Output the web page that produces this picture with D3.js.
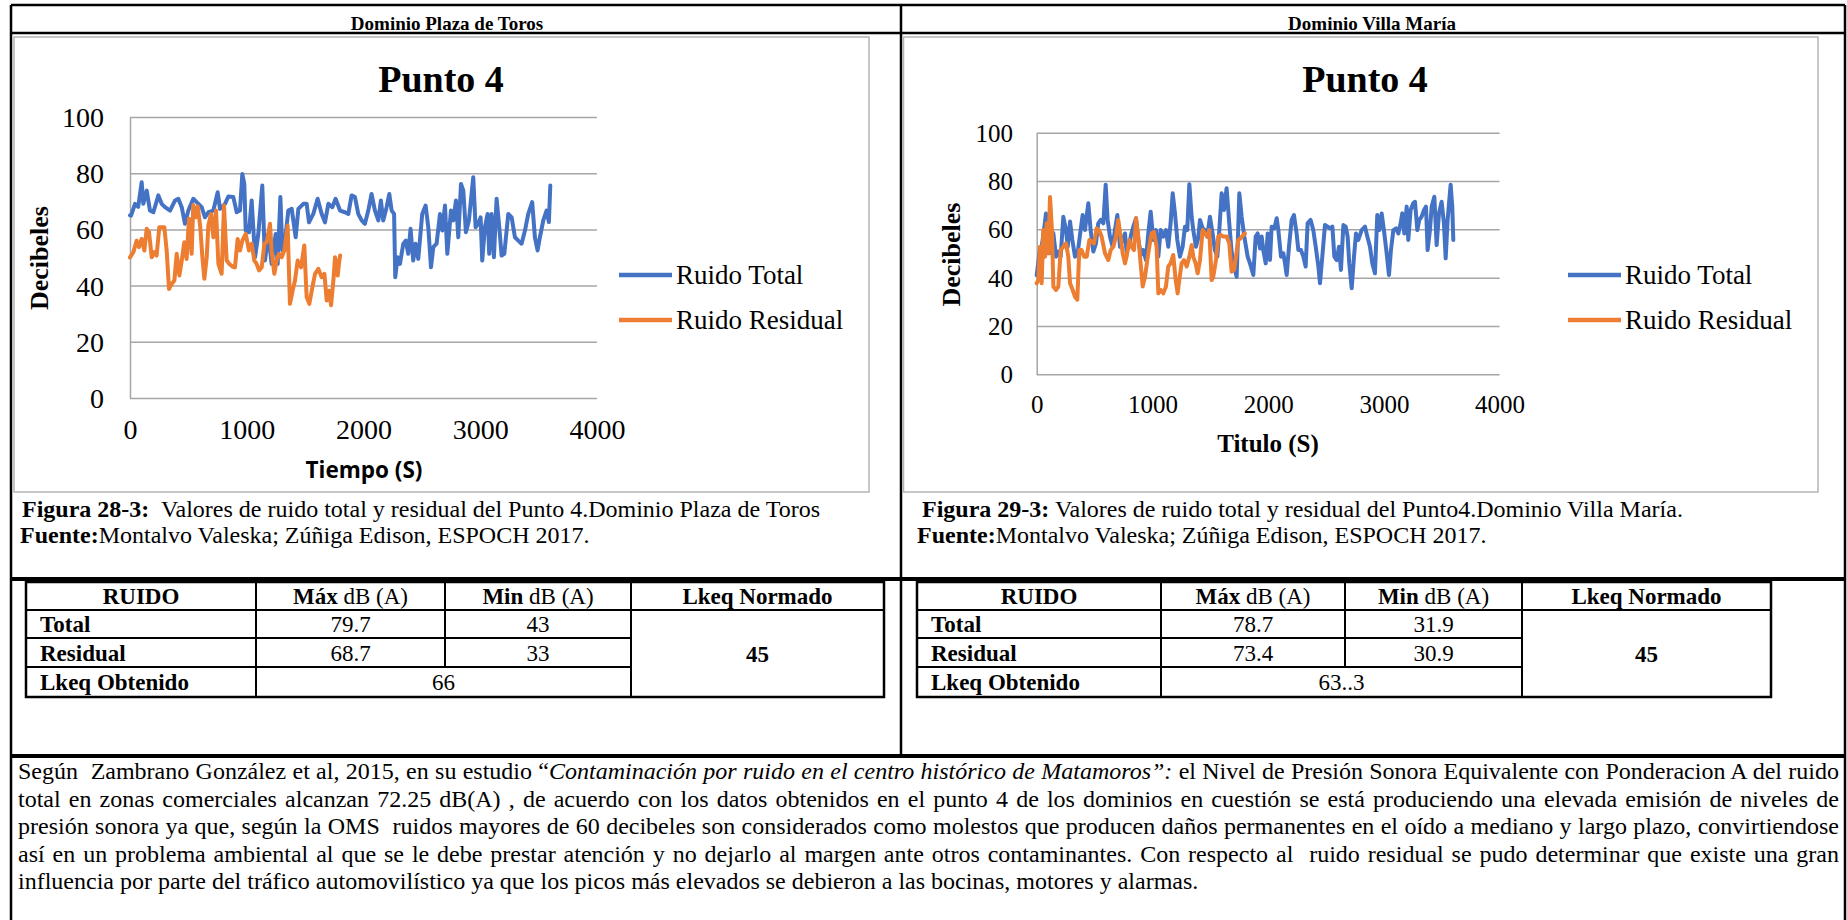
<!DOCTYPE html>
<html>
<head>
<meta charset="utf-8">
<script src="https://cdn.jsdelivr.net/npm/d3@7"></script>
<style>
  html, body { margin: 0; padding: 0; background: #fff; }
  svg { display: block; }
  text { font-family: "Liberation Serif", "Times New Roman", serif; fill: #000; }
</style>
</head>
<body>
<svg id="page" width="1847" height="920"></svg>
<script>
// ---- axis ticks and legend names ----
const xTicks = [0, 1000, 2000, 3000, 4000];
const yTicks = [0, 20, 40, 60, 80, 100];
const seriesNames = ["Ruido Total", "Ruido Residual"];
const seriesColors = ["#4472C4", "#ED7D31"];

// ---- Punto 4, Dominio Plaza de Toros: [tiempo (s), dB] ----
const torosTotal = [
  [0,65],[9,64.9],[43,69.1],[70,68],[100,76.8],[114,69.1],[143,73.8],[171,66.7],[200,66.1],
  [243,72.1],[271,69.1],[300,67.9],[343,66.7],[386,70.3],[414,70.9],[443,67.9],[471,62],
  [500,66.7],[542,70.9],[571,69.7],[614,67.9],[642,64.3],[671,66.1],[714,66.7],[751,73.2],
  [771,67.3],[814,69.1],[842,71.7],[885,71.5],[914,66.1],[942,66.7],[962,79.7],[979,76.2],
  [991,59.6],[1019,59],[1042,70.3],[1071,50.1],[1099,58.4],[1133,75.6],[1156,48.9],[1185,58.4],
  [1213,47.7],[1248,58.4],[1265,47.7],[1288,71.5],[1305,52.5],[1328,56],[1356,66.7],[1385,67.3],
  [1419,57.2],[1442,67.3],[1485,69.1],[1513,69.1],[1533,62.5],[1570,65.5],[1607,70.9],[1642,65.5],
  [1670,62.5],[1699,69.1],[1733,67.9],[1761,70.9],[1799,66.7],[1841,66.1],[1870,65.5],[1898,72.1],
  [1927,71.5],[1955,65.5],[1984,63.2],[2012,62],[2041,66.7],[2069,72.6],[2098,66.7],[2127,63.2],
  [2149,70.3],[2169,63.2],[2198,67.9],[2221,72.6],[2241,66.7],[2262,65.5],[2272,43],[2292,50.1],
  [2312,47.7],[2341,54.9],[2363,56],[2383,51.3],[2403,60.2],[2426,48.9],[2446,54.9],[2469,49.5],
  [2503,65.5],[2532,68.5],[2555,60.8],[2578,46.5],[2598,53.7],[2626,54.9],[2655,65.5],[2675,59.6],
  [2698,68.5],[2718,51.3],[2749,66.7],[2769,63.2],[2792,70.3],[2812,57.2],[2835,76.2],[2855,73.8],
  [2877,59],[2903,63.2],[2940,78.6],[2960,60.8],[2983,62],[3003,64.3],[3017,48.9],[3040,60.8],
  [3063,65.5],[3077,51.3],[3097,65.5],[3117,50.1],[3140,70.9],[3163,60.8],[3183,50.7],[3206,51.3],
  [3240,65.5],[3269,64.3],[3297,57.2],[3326,56],[3354,54.9],[3383,59.6],[3411,65.5],[3445,69.7],
  [3468,57.2],[3491,52.5],[3511,57.2],[3540,63.2],[3568,66.7],[3588,62.6],[3600,75.6]
];
const torosResidual = [
  [0,50],[9,50.7],[29,51.9],[57,56],[77,53.7],[100,56.6],[123,52.5],[143,60.2],[163,59],[186,50.1],
  [209,51.9],[228,50.7],[251,60.8],[271,60.8],[294,60.8],[314,52.5],[334,38.8],[357,40.6],[380,41.8],
  [400,51.3],[423,43.6],[443,48.9],[465,55.4],[485,49.5],[505,63.8],[528,51.3],[542,68.7],[562,64.3],
  [580,68.2],[602,60.8],[620,50.1],[637,42.4],[657,50.1],[671,61.4],[694,65.5],[714,57.2],[737,66.7],
  [757,47.7],[785,44.2],[805,68.5],[828,48.9],[851,47.7],[877,46.8],[899,46.5],[922,56.6],[942,52.5],
  [962,56],[991,58.4],[1019,52.5],[1042,54.9],[1065,48.9],[1085,47.7],[1105,45.4],[1128,46.5],
  [1151,54.9],[1171,55.4],[1199,62],[1213,52.5],[1236,44.2],[1256,48.9],[1276,51.3],[1299,50.1],
  [1322,52.5],[1350,61.4],[1370,33.5],[1393,38.2],[1413,41.8],[1436,48.9],[1465,46.5],[1493,54.3],
  [1513,35.9],[1536,33.5],[1562,39.4],[1585,44.2],[1613,46],[1642,43],[1665,44.2],[1685,34.7],
  [1704,38.2],[1722,33],[1742,41.8],[1756,50.1],[1779,43.6],[1793,48.9],[1800,50.7]
];

// ---- Punto 4, Dominio Villa María: [tiempo (s), dB] ----
const villaTotal = [
  [0,41],[6,43.2],[23,50.1],[43,52.8],[63,59.7],[80,66.6],[95,55.6],[109,50.1],[124,59.7],[144,58.3],
  [167,48.7],[187,50.8],[207,48.7],[230,65.2],[253,59.7],[268,52.8],[288,63.2],[308,55.6],[331,48.7],
  [354,50.1],[374,57.7],[397,65.9],[417,59.7],[446,70.8],[466,59.7],[489,50.8],[512,54.2],[532,62.5],
  [553,63.9],[576,62.5],[596,78.5],[613,63.9],[633,57],[656,52.8],[676,59.7],[697,65.9],[720,52.8],
  [743,55.6],[763,58.3],[777,50.8],[797,52.8],[815,57.7],[835,61.1],[858,64.6],[878,55.6],[901,49.4],
  [921,51.4],[944,47.3],[964,58.3],[985,67.3],[1008,55.6],[1031,59.7],[1051,48.7],[1071,59.7],
  [1094,57],[1117,59.7],[1137,52.8],[1157,62.5],[1175,74.9],[1195,66.6],[1215,55.6],[1238,48.7],
  [1261,52.8],[1281,61.1],[1301,59.7],[1319,78.7],[1339,65.2],[1353,59.7],[1376,52.8],[1396,56.3],
  [1411,63.9],[1434,60.4],[1454,59.7],[1474,57],[1497,65.2],[1520,58.3],[1540,51.4],[1561,48.7],
  [1578,59.7],[1598,74.9],[1618,68],[1641,77],[1664,62.5],[1684,50.8],[1705,44.6],[1728,40.4],
  [1751,74.9],[1771,65.2],[1794,57],[1823,48.7],[1843,45.9],[1872,41.1],[1892,57],[1909,58.3],
  [1930,52.1],[1944,57],[1958,51.4],[1979,45.9],[1996,58.3],[2016,47.3],[2030,61.1],[2053,60.4],
  [2074,64.6],[2088,59.7],[2111,48.7],[2131,50.1],[2146,45.9],[2160,41.1],[2180,52.8],[2203,63.9],
  [2223,65.9],[2246,58.3],[2261,51.4],[2284,51.4],[2304,48.7],[2324,44.6],[2341,62.5],[2367,63.9],
  [2390,59.7],[2411,52.8],[2434,44.6],[2448,37.7],[2468,48.7],[2491,61.8],[2514,61.1],[2534,60.4],
  [2555,61.1],[2572,48.7],[2592,47.3],[2612,52.8],[2629,43.2],[2650,61.8],[2670,61.1],[2687,57],
  [2701,45.9],[2722,35.6],[2742,48.7],[2759,58.3],[2779,55.6],[2808,59.7],[2837,61.1],[2857,57],
  [2880,52.8],[2900,45.9],[2923,41.8],[2943,65.9],[2961,59.7],[2981,66.6],[3004,58.3],[3024,50.1],
  [3044,41.1],[3061,51.4],[3082,59.7],[3105,60.4],[3125,58.3],[3145,62.5],[3159,66.6],[3177,58.3],
  [3197,69.4],[3211,55.6],[3231,68],[3254,70.8],[3269,71.4],[3289,59.7],[3306,63.9],[3326,65.2],
  [3347,68],[3364,69.4],[3378,51.4],[3398,59.7],[3413,69.4],[3436,73.5],[3456,53.5],[3476,66.6],
  [3499,71.4],[3519,62.5],[3534,48],[3551,63.9],[3563,70.8],[3577,78.5],[3591,69.4],[3600,55.6]
];
const villaResidual = [
  [0,37.7],[14,39],[28,52.8],[43,37.7],[57,59.7],[72,48.7],[86,62.5],[100,50.1],[115,73.4],[132,59.7],
  [144,36.3],[167,34.9],[187,36.3],[207,51.4],[230,52.8],[253,54.2],[273,48.7],[288,37.7],[311,34.9],
  [331,32.1],[351,30.9],[368,51.4],[388,51.4],[409,48.7],[432,48.7],[455,55.6],[475,54.9],[495,54.2],
  [518,60.4],[538,59.7],[561,57],[590,50.1],[619,47.3],[639,51.4],[662,52.8],[685,57],[705,63.9],
  [725,57],[743,50.1],[763,45.9],[777,48.7],[800,55.6],[820,52.8],[841,51.4],[858,64.6],[878,57],
  [898,45.9],[916,36.3],[936,40.4],[956,47.3],[973,52.8],[993,58.3],[1013,59],[1036,52.8],[1051,33.5],
  [1071,34.9],[1094,33.5],[1117,36.3],[1137,44.6],[1157,45.9],[1180,49.4],[1201,39],[1218,33.5],
  [1232,39],[1252,45.9],[1273,47.3],[1296,44.6],[1319,48.7],[1339,53.5],[1353,48.7],[1373,45.9],
  [1391,41.8],[1411,47.3],[1434,59.7],[1454,58.3],[1474,57],[1491,59.7],[1512,39],[1526,40.4],
  [1549,47.3],[1569,57],[1589,57.7],[1612,57],[1641,57],[1664,54.2],[1684,42.5],[1705,43.2],
  [1722,48.7],[1742,55.6],[1762,56.3],[1785,57.7],[1800,58.3]
];

// ---- summary tables ----
const tableHead = [["RUIDO", ""], ["Máx", " dB (A)"], ["Min", " dB (A)"], ["Lkeq Normado", ""]];
const rowLabels = ["Total", "Residual", "Lkeq Obtenido"];
const torosMax = ["79.7", "68.7"];
const torosMin = ["43", "33"];
const torosLkeq = "66";
const villaMax = ["78.7", "73.4"];
const villaMin = ["31.9", "30.9"];
const villaLkeq = "63..3";
const lkeqNormado = "45";

// ---- texts ----
const columnTitles = ["Dominio Plaza de Toros", "Dominio Villa María"];
const chartTitle = "Punto 4";
const captionToros = [
  [["Figura 28-3:", "b"], ["  Valores de ruido total y residual del Punto 4.Dominio Plaza de Toros", ""]],
  [["Fuente:", "b"], ["Montalvo Valeska; Zúñiga Edison, ESPOCH 2017.", ""]]
];
const captionVilla = [
  [["Figura 29-3:", "b"], [" Valores de ruido total y residual del Punto4.Dominio Villa María.", ""]],
  [["Fuente:", "b"], ["Montalvo Valeska; Zúñiga Edison, ESPOCH 2017.", ""]]
];
const paragraphLines = [
  [["Según  Zambrano González et al, 2015, en su estudio “", ""], ["Contaminación por ruido en el centro histórico de Matamoros”:", "i"], [" el Nivel de Presión Sonora Equivalente con Ponderacion A del ruido", ""]],
  [["total en zonas comerciales alcanzan 72.25 dB(A) , de acuerdo con los datos obtenidos en el punto 4 de los dominios en cuestión se está produciendo una elevada emisión de niveles de", ""]],
  [["presión sonora ya que, según la OMS  ruidos mayores de 60 decibeles son considerados como molestos que producen daños permanentes en el oído a mediano y largo plazo, convirtiendose", ""]],
  [["así en un problema ambiental al que se le debe prestar atención y no dejarlo al margen ante otros contaminantes. Con respecto al  ruido residual se pudo determinar que existe una gran", ""]],
  [["influencia por parte del tráfico automovilístico ya que los picos más elevados se debieron a las bocinas, motores y alarmas.", ""]]
];

const svg = d3.select("#page");
const SANS = '"Open Sans", "Liberation Sans", sans-serif';

// text made of bold / italic runs
function richText(parent, x, y, runs, size, anchor) {
  const t = parent.append("text")
    .attr("x", x).attr("y", y)
    .attr("font-size", size)
    .attr("text-anchor", anchor || "start")
    .style("white-space", "pre");
  runs.forEach(([s, st]) => {
    const ts = t.append("tspan").text(s);
    if (st.includes("b")) ts.attr("font-weight", "bold");
    if (st.includes("i")) ts.attr("font-style", "italic");
  });
  return t;
}

function line(x1, y1, x2, y2, w, c) {
  svg.append("line").attr("x1", x1).attr("y1", y1).attr("x2", x2).attr("y2", y2)
    .attr("stroke", c || "#000").attr("stroke-width", w);
}

// ---- page frame ----
const L = 11, R = 1845, TOP = 5, MID = 901;
line(L, TOP, R, TOP, 2.5);
line(L, TOP, L, 920, 2.5);
line(R, TOP, R, 920, 2.5);
line(L, 33, R, 33, 2.5);
line(MID, TOP, MID, 756, 2.5);
line(L, 579, R, 579, 4);
line(L, 756, R, 756, 4);

svg.append("text").attr("x", 447).attr("y", 30).attr("text-anchor", "middle")
  .attr("font-size", 19).attr("font-weight", "bold").text(columnTitles[0]);
svg.append("text").attr("x", 1372).attr("y", 30).attr("text-anchor", "middle")
  .attr("font-size", 19).attr("font-weight", "bold").text(columnTitles[1]);

// ---- line charts ----
function drawChart(cfg) {
  const g = svg.append("g");
  g.append("rect").attr("x", cfg.fx0).attr("y", 37).attr("width", cfg.fx1 - cfg.fx0).attr("height", 492 - 37)
    .attr("fill", "#fff").attr("stroke", "#b4b4b4").attr("stroke-width", 1.5);

  const x = d3.scaleLinear().domain([0, 4000]).range([cfg.x0, cfg.x1]);
  const y = d3.scaleLinear().domain([0, 100]).range([cfg.y0, cfg.y1]);

  const yAxis = g.append("g").attr("transform", `translate(${cfg.x0},0)`)
    .call(d3.axisLeft(y).tickValues(yTicks).tickFormat(d3.format("d"))
      .tickSize(-(cfg.x1 - cfg.x0)).tickSizeOuter(0).tickPadding(cfg.yPad));
  yAxis.select(".domain").attr("stroke", "#a6a6a6").attr("stroke-width", 1.5);
  yAxis.selectAll(".tick line").attr("stroke", "#a6a6a6").attr("stroke-width", 1.5);
  yAxis.selectAll(".tick text").attr("font-size", cfg.tick).attr("fill", "#000").attr("dy", "0.34em");

  const xAxis = g.append("g").attr("transform", `translate(0,${cfg.y0})`)
    .call(d3.axisBottom(x).tickValues(xTicks).tickFormat(d3.format("d")).tickSize(0).tickPadding(0));
  xAxis.select(".domain").remove();
  xAxis.selectAll(".tick text").attr("font-size", cfg.tick).attr("fill", "#000")
    .attr("dy", null).attr("y", cfg.xLab - cfg.y0);

  const path = d3.line().x(d => x(d[0])).y(d => y(d[1]));
  [cfg.total, cfg.residual].forEach((s, i) => {
    g.append("path").datum(s).attr("d", path).attr("fill", "none")
      .attr("stroke", seriesColors[i]).attr("stroke-width", 4)
      .attr("stroke-linejoin", "round").attr("stroke-linecap", "round");
  });

  g.append("text").attr("x", cfg.titleX).attr("y", 92).attr("text-anchor", "middle")
    .attr("font-size", 38).attr("font-weight", "bold").text(chartTitle);

  g.append("text").attr("transform", `translate(${cfg.yTitleX},${cfg.yTitleY}) rotate(-90)`)
    .attr("text-anchor", "middle").attr("font-size", 26).attr("font-weight", "bold").text("Decibeles");

  const xt = g.append("text").attr("x", cfg.xTitle.x).attr("y", cfg.xTitle.y).attr("text-anchor", "middle")
    .attr("font-size", cfg.xTitle.size).attr("font-weight", "bold").text(cfg.xTitle.text);
  if (cfg.xTitle.sans) xt.style("font-family", SANS);

  [275, 320].forEach((ly, i) => {
    g.append("line").attr("x1", cfg.lx0).attr("x2", cfg.lx1).attr("y1", ly).attr("y2", ly)
      .attr("stroke", seriesColors[i]).attr("stroke-width", 4.5);
    g.append("text").attr("x", cfg.lx1 + 4).attr("y", ly + 9).attr("font-size", 27).text(seriesNames[i]);
  });
}

drawChart({
  fx0: 14, fx1: 869, x0: 130, x1: 597, y0: 398, y1: 117, tick: 28, yPad: 26, xLab: 438.5,
  titleX: 441, yTitleX: 47.5, yTitleY: 258,
  xTitle: { text: "Tiempo (S)", x: 364, y: 478, size: 22.5, sans: true },
  lx0: 619, lx1: 672, total: torosTotal, residual: torosResidual
});
drawChart({
  fx0: 903.5, fx1: 1818, x0: 1036.7, x1: 1499.6, y0: 374.3, y1: 132.7, tick: 25, yPad: 23.7, xLab: 413.3,
  titleX: 1365, yTitleX: 960, yTitleY: 254.5,
  xTitle: { text: "Titulo (S)", x: 1268, y: 452, size: 25, sans: false },
  lx0: 1568, lx1: 1621, total: villaTotal, residual: villaResidual
});

// ---- captions ----
richText(svg, 22, 517, captionToros[0], 24);
richText(svg, 20, 543, captionToros[1], 24);
richText(svg, 922, 517, captionVilla[0], 24);
richText(svg, 917, 543, captionVilla[1], 24);

// ---- summary tables ----
function drawTable(xs, ys, maxV, minV, lkeq) {
  const g = svg.append("g");
  const fs = 23, off = 8;
  const X0 = xs[0], X4 = xs[4], Y0 = ys[0], Y4 = ys[4];
  const seg = (a, b, c, d, w) => g.append("line").attr("x1", a).attr("y1", b).attr("x2", c).attr("y2", d)
    .attr("stroke", "#000").attr("stroke-width", w);
  g.append("rect").attr("x", X0).attr("y", Y0).attr("width", X4 - X0).attr("height", Y4 - Y0)
    .attr("fill", "none").attr("stroke", "#000").attr("stroke-width", 2.5);
  seg(X0, ys[1], X4, ys[1], 2);
  seg(X0, ys[2], xs[3], ys[2], 2);
  seg(X0, ys[3], xs[3], ys[3], 2);
  seg(xs[1], Y0, xs[1], Y4, 2);
  seg(xs[2], Y0, xs[2], ys[3], 2);
  seg(xs[3], Y0, xs[3], Y4, 2);

  const cy = r => (ys[r] + ys[r + 1]) / 2 + off;
  tableHead.forEach(([b, n], c) => {
    richText(g, (xs[c] + xs[c + 1]) / 2, cy(0), [[b, "b"], [n, ""]], fs, "middle");
  });
  rowLabels.forEach((lab, r) => {
    g.append("text").attr("x", X0 + 14).attr("y", cy(r + 1)).attr("font-size", fs)
      .attr("font-weight", "bold").text(lab);
  });
  [0, 1].forEach(r => {
    g.append("text").attr("x", (xs[1] + xs[2]) / 2).attr("y", cy(r + 1)).attr("font-size", fs)
      .attr("text-anchor", "middle").text(maxV[r]);
    g.append("text").attr("x", (xs[2] + xs[3]) / 2).attr("y", cy(r + 1)).attr("font-size", fs)
      .attr("text-anchor", "middle").text(minV[r]);
  });
  g.append("text").attr("x", (xs[1] + xs[3]) / 2).attr("y", cy(3)).attr("font-size", fs)
    .attr("text-anchor", "middle").text(lkeq);
  g.append("text").attr("x", (xs[3] + xs[4]) / 2).attr("y", (ys[1] + ys[4]) / 2 + off).attr("font-size", fs)
    .attr("font-weight", "bold").attr("text-anchor", "middle").text(lkeqNormado);
}
const rowsY = [582, 610, 638, 667, 697];
drawTable([26, 256, 445, 631, 884], rowsY, torosMax, torosMin, torosLkeq);
drawTable([917, 1161, 1345, 1522, 1771], rowsY, villaMax, villaMin, villaLkeq);

// ---- justified paragraph ----
const PX0 = 18, PX1 = 1839, PW = PX1 - PX0;
let pfs = 24;
const probe = paragraphLines.slice(0, 4).map(runs => {
  const t = richText(svg, PX0, -100, runs, pfs);
  const w = t.node().getComputedTextLength();
  t.remove();
  return w;
});
const widest = d3.max(probe);
if (widest > PW) pfs = Math.floor(pfs * PW / widest * 10) / 10;

paragraphLines.forEach((runs, i) => {
  const t = richText(svg, PX0, 779 + i * 27.5, runs, pfs);
  if (i < paragraphLines.length - 1) {
    const w = t.node().getComputedTextLength();
    const spaces = runs.map(r => r[0]).join("").split(" ").length - 1;
    t.style("word-spacing", ((PW - w) / spaces) + "px");
    const w2 = t.node().getComputedTextLength();
    if (Math.abs(w2 - PW) > 4) {
      t.style("word-spacing", null).attr("textLength", PW).attr("lengthAdjust", "spacing");
    }
  }
});
</script>
</body>
</html>
